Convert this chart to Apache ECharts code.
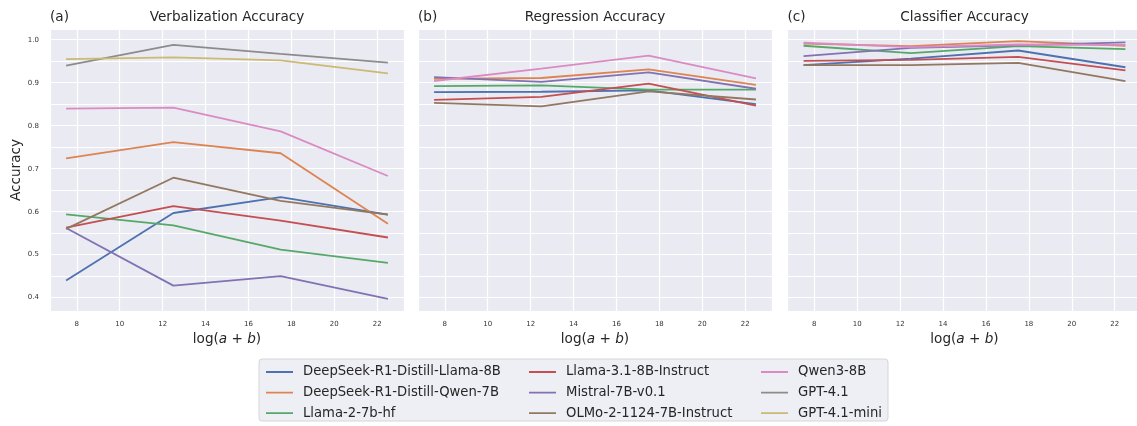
<!DOCTYPE html>
<html>
<head>
<meta charset="utf-8">
<script src="https://cdn.jsdelivr.net/npm/echarts@6/dist/echarts.min.js"></script>
<style>
  html, body { margin: 0; padding: 0; background: #ffffff; }
  #chart { width: 1137px; height: 426px; }
</style>
</head>
<body>
<div id="chart"></div>
<script>
// log(a + b) sample points shared by every curve
const xPoints = [7.5, 12.5, 17.5, 22.5];

const models = [
  'DeepSeek-R1-Distill-Llama-8B',
  'DeepSeek-R1-Distill-Qwen-7B',
  'Llama-2-7b-hf',
  'Llama-3.1-8B-Instruct',
  'Mistral-7B-v0.1',
  'OLMo-2-1124-7B-Instruct',
  'Qwen3-8B',
  'GPT-4.1',
  'GPT-4.1-mini'
];

// seaborn "deep" palette, one colour per model
const modelColors = ['#4C72B0', '#DD8452', '#55A868', '#C44E52', '#8172B3', '#937860', '#DA8BC3', '#8C8C8C', '#CCB974'];

const panelTitles = ['Verbalization Accuracy', 'Regression Accuracy', 'Classifier Accuracy'];
const panelTags = ['(a)', '(b)', '(c)'];

// (a) verbalization accuracy, rows follow `models`
const verbalizationAcc = [
  [0.440, 0.597, 0.634, 0.593],
  [0.724, 0.762, 0.736, 0.572],
  [0.594, 0.568, 0.512, 0.481],
  [0.563, 0.613, 0.579, 0.540],
  [0.562, 0.428, 0.450, 0.397],
  [0.560, 0.679, 0.625, 0.593],
  [0.840, 0.842, 0.787, 0.683],
  [0.940, 0.988, 0.967, 0.947],
  [0.955, 0.959, 0.952, 0.922]
];

// (b) regression accuracy, open-weight models only
const regressionAcc = [
  [0.878, 0.879, 0.882, 0.850],
  [0.909, 0.911, 0.931, 0.895],
  [0.892, 0.894, 0.884, 0.884],
  [0.860, 0.867, 0.898, 0.847],
  [0.913, 0.902, 0.924, 0.886],
  [0.853, 0.845, 0.880, 0.861],
  [0.904, 0.933, 0.963, 0.910]
];

// (c) classifier accuracy, open-weight models only
const classifierAcc = [
  [0.941, 0.956, 0.975, 0.936],
  [0.991, 0.985, 0.997, 0.986],
  [0.986, 0.969, 0.985, 0.978],
  [0.951, 0.953, 0.960, 0.929],
  [0.962, 0.981, 0.987, 0.994],
  [0.941, 0.941, 0.946, 0.904],
  [0.993, 0.983, 0.989, 0.988]
];

const panelData = [verbalizationAcc, regressionAcc, classifierAcc];

const FONT = 'DejaVu Sans';
const TEXT = '#262626';
const panelLefts = [50, 418, 787.5];
const panelWidth = 354;
const plotTop = 29;
const plotHeight = 282;

const grids = panelLefts.map(l => ({
  left: l, top: plotTop, width: panelWidth, height: plotHeight,
  show: true, backgroundColor: '#EAEAF2', borderWidth: 0,
  containLabel: false, outerBoundsMode: 'none'
}));

const xAxes = panelLefts.map((l, i) => ({
  type: 'value', gridIndex: i,
  min: 6.75, max: 23.25, splitNumber: 8,
  axisLine: { show: false }, axisTick: { show: false },
  axisLabel: {
    fontFamily: FONT, fontSize: 7, color: '#333333', margin: 10,
    showMinLabel: false, showMaxLabel: false
  },
  splitLine: { show: true, lineStyle: { color: '#ffffff', width: 1.2 } },
  name: '{r|log(}{i|a}{r| + }{i|b}{r|)}',
  nameLocation: 'middle', nameGap: 21,
  nameTextStyle: {
    rich: {
      r: { fontFamily: FONT, fontSize: 13.6, color: TEXT },
      i: { fontFamily: FONT, fontSize: 13.6, color: TEXT, fontStyle: 'italic' }
    }
  }
}));

const yAxes = panelLefts.map((l, i) => ({
  type: 'value', gridIndex: i,
  min: 0.369, max: 1.025, splitNumber: 5,
  axisLine: { show: false }, axisTick: { show: false },
  axisLabel: {
    show: i === 0,
    fontFamily: FONT, fontSize: 7, color: '#333333', margin: 11,
    showMinLabel: false, showMaxLabel: false,
    formatter: v => v.toFixed(1)
  },
  splitLine: { show: true, lineStyle: { color: '#ffffff', width: 1.2 } },
  minorTick: { show: false, splitNumber: 2 },
  minorSplitLine: { show: true, lineStyle: { color: '#ffffff', width: 1.2 } },
  name: i === 0 ? 'Accuracy' : '',
  nameLocation: 'middle', nameGap: 26,
  nameTextStyle: { fontFamily: FONT, fontSize: 13.6, color: TEXT }
}));

const series = [];
panelData.forEach((rows, gi) => {
  rows.forEach((vals, mi) => {
    series.push({
      type: 'line',
      name: models[mi],
      xAxisIndex: gi, yAxisIndex: gi,
      data: xPoints.map((x, k) => [x, vals[k]]),
      symbol: 'none', showSymbol: false,
      lineStyle: { color: modelColors[mi], width: 1.8 },
      itemStyle: { color: modelColors[mi] },
      silent: true
    });
  });
});

const titles = [];
panelLefts.forEach((l, i) => {
  titles.push({
    text: panelTitles[i], left: l + panelWidth / 2, top: 10, textAlign: 'center', padding: 0,
    textStyle: { fontFamily: FONT, fontSize: 13.6, fontWeight: 'normal', color: TEXT }
  });
  titles.push({
    text: panelTags[i], left: l, top: 10, padding: 0,
    textStyle: { fontFamily: FONT, fontSize: 13.6, fontWeight: 'normal', color: TEXT }
  });
});

// legend handle: a thin horizontal bar centred in a 27x14 box
// (the two tiny corner specks only fix the bounding box)
const handleIcon = 'path://M0,0L0.01,0L0,0.01Z M0,6.1L27,6.1L27,7.9L0,7.9Z M27,14L26.99,14L27,13.99Z';

// three legend columns, filled top to bottom
const legendCols = [models.slice(0, 3), models.slice(3, 6), models.slice(6, 9)];
const legendLefts = [266, 529, 761];
const legends = legendCols.map((names, c) => ({
  data: names, orient: 'vertical', left: legendLefts[c], top: 365,
  padding: 0, itemWidth: 27, itemHeight: 14, itemGap: 6.6,
  icon: handleIcon,
  selectedMode: false,
  textStyle: { fontFamily: FONT, fontSize: 13.2, color: TEXT, padding: [0, 0, 0, 5] }
}));

const chart = echarts.init(document.getElementById('chart'), null, { renderer: 'canvas' });
chart.setOption({
  animation: false,
  backgroundColor: '#ffffff',
  title: titles,
  grid: grids,
  xAxis: xAxes,
  yAxis: yAxes,
  legend: legends,
  graphic: [{
    type: 'rect', z: -1, silent: true,
    shape: { x: 259, y: 359, width: 629, height: 62, r: 3 },
    style: { fill: 'rgba(234,234,242,0.8)', stroke: '#d6d6d6', lineWidth: 1 }
  }],
  series: series
});
</script>
</body>
</html>
